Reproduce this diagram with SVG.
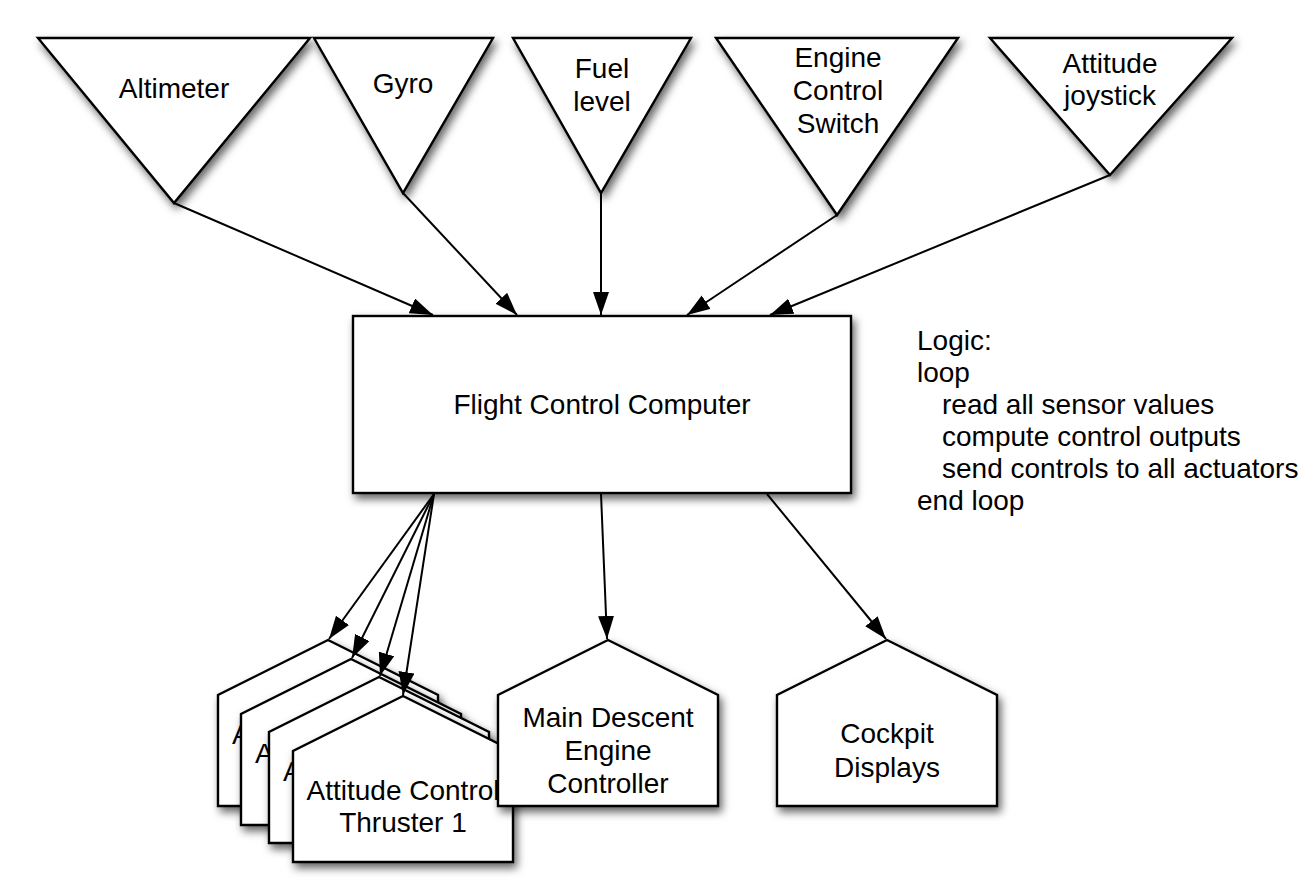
<svg xmlns="http://www.w3.org/2000/svg" width="1316" height="894" viewBox="0 0 1316 894">
<defs>
<style>
.shape{fill:#ffffff;stroke:#000000;stroke-width:2.4;stroke-linejoin:miter;filter:url(#shadow)}
.lbl{font-family:"Liberation Sans",Arial,Helvetica,sans-serif;font-size:28px;fill:#000000;text-anchor:middle}
.lblL{font-family:"Liberation Sans",Arial,Helvetica,sans-serif;font-size:28px;fill:#000000}
.logic{font-family:"Liberation Sans",Arial,Helvetica,sans-serif;font-size:28px;fill:#000000}
.conn{stroke:#000000;stroke-width:2;fill:none;marker-end:url(#arrow)}
</style>
<filter id="shadow" x="-20%" y="-20%" width="140%" height="150%">
<feDropShadow dx="3" dy="5" stdDeviation="4" flood-color="#000000" flood-opacity="0.6"/>
</filter>
<marker id="arrow" markerUnits="userSpaceOnUse" markerWidth="24" markerHeight="17" refX="23" refY="8" orient="auto">
<path d="M0,0 L23,8 L0,16 Z" fill="#000000"/>
</marker>
</defs>
<rect width="1316" height="894" fill="#ffffff"/>

<g id="altimeter">
<polygon class="shape" points="38,38 310,38 174,203"/>
<text class="lbl" x="174" y="98">Altimeter</text>
</g>
<g id="gyro">
<polygon class="shape" points="314,38 493,38 403,193"/>
<text class="lbl" x="403" y="93">Gyro</text>
</g>
<g id="fuel-level">
<polygon class="shape" points="513,38 691,38 601,193"/>
<text class="lbl" x="602" y="78">Fuel</text>
<text class="lbl" x="602" y="111">level</text>
</g>
<g id="engine-control-switch">
<polygon class="shape" points="716,38 958,38 837,215"/>
<text class="lbl" x="838" y="67">Engine</text>
<text class="lbl" x="838" y="100">Control</text>
<text class="lbl" x="838" y="133">Switch</text>
</g>
<g id="attitude-joystick">
<polygon class="shape" points="990,38 1232,38 1110,175"/>
<text class="lbl" x="1110" y="73">Attitude</text>
<text class="lbl" x="1110" y="105">joystick</text>
</g>

<g id="flight-control-computer">
<rect class="shape" x="353" y="316" width="498" height="177"/>
<text class="lbl" x="602" y="414">Flight Control Computer</text>
</g>

<g id="logic-note">
<text class="logic" x="917" y="350">Logic:</text>
<text class="logic" x="917" y="382">loop</text>
<text class="logic" x="942" y="414">read all sensor values</text>
<text class="logic" x="942" y="446">compute control outputs</text>
<text class="logic" x="942" y="478">send controls to all actuators</text>
<text class="logic" x="917" y="510">end loop</text>
</g>

<g id="thruster-4">
<path class="shape" d="M328,640 L438,695 L438,806 L218,806 L218,695 Z"/>
<text class="lblL" x="232" y="744">A</text>
</g>
<g id="thruster-3">
<path class="shape" d="M351,659 L461,714 L461,825 L241,825 L241,714 Z"/>
<text class="lblL" x="255" y="763">A</text>
</g>
<g id="thruster-2">
<path class="shape" d="M379,677 L489,732 L489,843 L269,843 L269,732 Z"/>
<text class="lblL" x="283" y="781">A</text>
</g>
<g id="thruster-1">
<path class="shape" d="M403,696 L513,751 L513,862 L293,862 L293,751 Z"/>
<text class="lbl" x="403" y="800">Attitude Control</text>
<text class="lbl" x="403" y="832">Thruster 1</text>
</g>

<g id="main-descent-engine-controller">
<path class="shape" d="M608,640 L718,695 L718,806 L498,806 L498,695 Z"/>
<text class="lbl" x="608" y="727">Main Descent</text>
<text class="lbl" x="608" y="760">Engine</text>
<text class="lbl" x="608" y="793">Controller</text>
</g>
<g id="cockpit-displays">
<path class="shape" d="M887,640 L997,695 L997,806 L777,806 L777,695 Z"/>
<text class="lbl" x="887" y="743">Cockpit</text>
<text class="lbl" x="887" y="777">Displays</text>
</g>

<g id="connectors">
<line class="conn" x1="174" y1="203" x2="433" y2="315"/>
<line class="conn" x1="403" y1="193" x2="517" y2="315"/>
<line class="conn" x1="601" y1="193" x2="601" y2="315"/>
<line class="conn" x1="837" y1="215" x2="687" y2="315"/>
<line class="conn" x1="1110" y1="175" x2="770" y2="315"/>
<line class="conn" x1="434" y1="494" x2="329" y2="639"/>
<line class="conn" x1="434" y1="494" x2="352" y2="658"/>
<line class="conn" x1="434" y1="494" x2="380" y2="676"/>
<line class="conn" x1="434" y1="494" x2="403" y2="695"/>
<line class="conn" x1="601" y1="494" x2="607" y2="639"/>
<line class="conn" x1="767" y1="494" x2="886" y2="639"/>
</g>
</svg>
